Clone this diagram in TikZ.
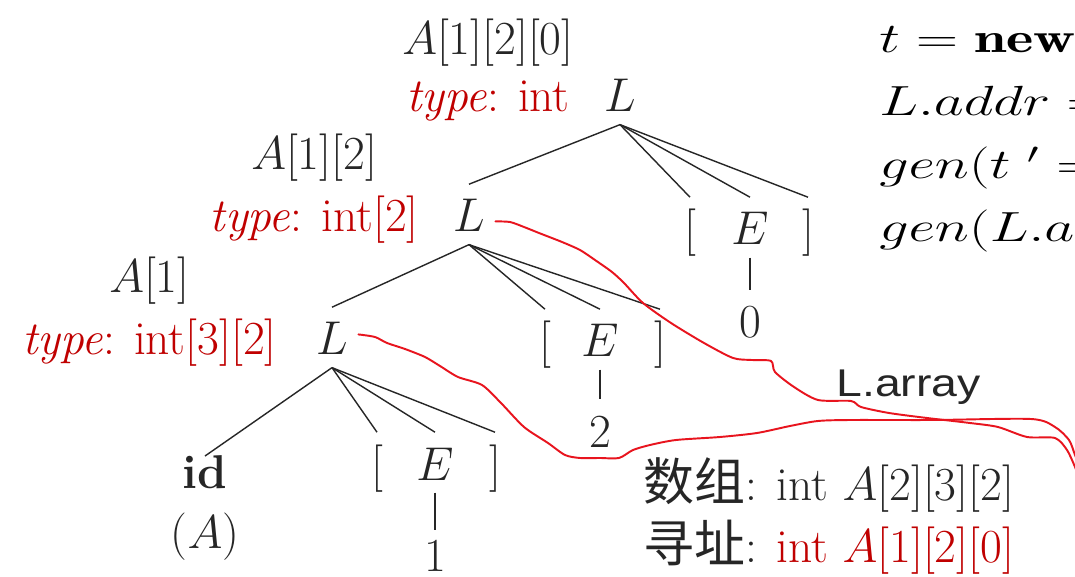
\RequirePackage{fix-cm}
\documentclass[tikz,border=0pt]{standalone}
\usepackage{amsmath}
\usepackage{fontspec}
\usepackage{tikz}
\usetikzlibrary{positioning}
\newfontfamily\cjk{Noto Sans CJK SC}
\newfontfamily\arial{Liberation Sans}
\definecolor{ink}{HTML}{262626}
\definecolor{attr}{HTML}{C00000}
\definecolor{pen}{HTML}{E8141E}

\begin{document}
\begin{tikzpicture}[x=0.02cm, y=-0.02cm,
        sym/.style={anchor=base, text height=24pt, text depth=4pt, inner sep=3pt,
            font=\fontsize{27}{31}\selectfont, text=ink},
        lbl/.style={inner sep=2pt, font=\fontsize{27}{31}\selectfont, text=ink},
        attr/.style={lbl, text=attr},
        code/.style={anchor=base west, inner sep=0pt, font=\fontsize{24}{28}\selectfont, text=black},
        branch/.style={draw=ink, line width=0.8pt},
        trail/.style={draw=pen, line width=1.1pt, line join=round, line cap=round}]

    \fill[white] (0,0) rectangle (1075,577);
    \useasboundingbox (0,0) rectangle (1075,577);
    \clip (0,0) rectangle (1075,577);

    % L -> L [ E ] at the top
    \node[sym] (L0) at (620,112) {$L$};
    \node[sym] (lb0) at (690,245) {[};
    \node[sym] (E0) at (750,245) {$E$};
    \node[sym] (rb0) at (808,245) {]};
    \node[sym] (n0) at (750,338) {0};

    \node[sym] (L1) at (469,232) {$L$};
    \node[sym] (lb1) at (545,357) {[};
    \node[sym] (E1) at (600,357) {$E$};
    \node[sym] (rb1) at (660,357) {]};
    \node[sym] (n1) at (600,447) {2};

    \node[sym] (L2) at (332,355) {$L$};
    \node[sym, text height=15pt] (id) at (205,488) {\textbf{id}};
    \node[lbl, below=5pt of id] (idA) {($A$)};
    \node[sym] (lb2) at (377,480) {[};
    \node[sym] (E2) at (435,480) {$E$};
    \node[sym] (rb2) at (495,480) {]};
    \node[sym, text depth=0pt, inner sep=1pt] (n2) at (435,571) {1};

    \foreach \c in {L1, lb0, E0, rb0} \draw[branch] (L0.south) -- (\c.north);
    \foreach \c in {L2, lb1, E1, rb1} \draw[branch] (L1.south) -- (\c.north);
    \foreach \c in {id, lb2, E2, rb2} \draw[branch] (L2.south) -- (\c.north);
    \draw[branch] (E0.south) -- (n0.north);
    \draw[branch] (E1.south) -- (n1.north);
    \draw[branch] (E2.south) -- ([yshift=-2pt]n2.north);

    % attributes of each L
    \node[attr, base left=5mm of L0] (ty0) {\textit{type}: int};
    \node[lbl, above=1.5mm of ty0] (ad0) {$A$[1][2][0]};
    \node[attr, base left=5mm of L1] (ty1) {\textit{type}: int[2]};
    \node[lbl, above=1.5mm of ty1] (ad1) {$A$[1][2]};
    \node[attr, base left=6mm of L2] (ty2) {\textit{type}: int[3][2]};
    \node[lbl, above=1.5mm of ty2] (ad2) {$A$[1]};

    % semantic rules, cut at the right
    \node[code] (c1) at (879,53) {\scalebox{1.38}[1]{$t = \mathbf{new}$}};
    \node[code] (c2) at (879,116) {\scalebox{1.38}[1]{$L.addr =$}};
    \node[code] (c3) at (879,179) {\scalebox{1.38}[1]{$gen(t\ '=$}};
    \node[code] (c4) at (879,242) {\scalebox{1.38}[1]{$gen(L.ad$}};

    \node[anchor=base west, inner sep=0pt, text=ink, font=\arial\fontsize{22}{26}\selectfont]
        (arr) at (836,397) {\scalebox{1.2}[1]{L.array}};

    \node[lbl, anchor=base west] (decl) at (640,500)
        {{\cjk\fontsize{29}{31}\selectfont 数组}: int $A$[2][3][2]};
    \node[lbl, anchor=base west] (look) at (640,562)
        {{\cjk\fontsize{29}{31}\selectfont 寻址}: \textcolor{attr}{int $A$[1][2][0]}};

    % hand-drawn red trails
    \draw[trail] plot[smooth, tension=0.45] coordinates {([shift={(5,7)}]L1.east)
        (510,222) (524,227) (539,233) (562,242) (580,250) (595,260) (612,272) (624,283)
        (643,303) (671,323) (704,343) (733,358) (752,360) (771,361) (775,372) (794,387)
        (818,400) (851,401) (861,407) (889,413) (927,418) (970,423) (998,427) (1027,437)
        (1055,438) (1067,450) (1075,467) (1082,485)};
    \draw[trail] plot[smooth, tension=0.45] coordinates {([shift={(5,-3)}]L2.east)
        (375,337) (387,343) (405,349) (425,357) (440,366) (458,377) (482,385) (501,403)
        (524,427) (548,443) (565,455) (580,458) (600,458) (619,458) (633,450) (650,445)
        (676,440) (720,437) (757,433) (790,426) (818,421) (851,420) (933,420) (1031,419)
        (1055,427) (1069,440) (1075,455) (1082,472)};
\end{tikzpicture}
\end{document}
